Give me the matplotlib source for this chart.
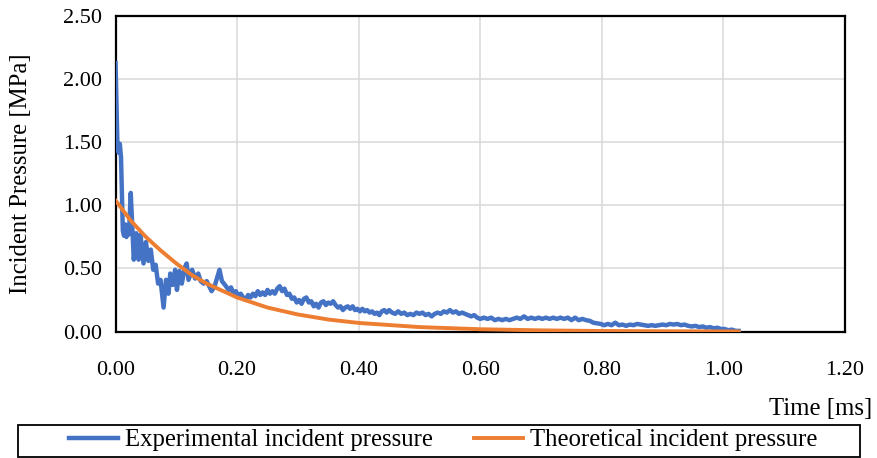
import matplotlib.pyplot as plt
from matplotlib.patches import Rectangle
from matplotlib.ticker import FormatStrFormatter

plt.rcParams['font.family'] = ['Liberation Serif', 'DejaVu Serif']

# experimental incident pressure (time ms, pressure MPa)
exp_t = [0.000, 0.003, 0.005, 0.007, 0.009, 0.012, 0.014, 0.016, 0.018, 0.020,
         0.022, 0.025, 0.028, 0.030, 0.034, 0.038, 0.041, 0.046, 0.050, 0.054,
         0.058, 0.062, 0.066, 0.070, 0.074, 0.079, 0.083, 0.087, 0.090, 0.094,
         0.098, 0.101, 0.105, 0.109, 0.114, 0.117, 0.120, 0.126, 0.131, 0.136,
         0.140, 0.145, 0.150, 0.158, 0.163, 0.171, 0.175,
         0.180, 0.186, 0.190, 0.194, 0.198, 0.202, 0.206, 0.210, 0.214, 0.218,
         0.222, 0.226, 0.230, 0.234, 0.238, 0.242, 0.246, 0.250, 0.254, 0.258,
         0.262, 0.266, 0.270, 0.274, 0.278, 0.282, 0.286, 0.290, 0.294, 0.298,
         0.302, 0.306, 0.310, 0.314, 0.318, 0.322, 0.326, 0.330, 0.334, 0.338,
         0.342, 0.346, 0.350, 0.354, 0.358, 0.362, 0.366, 0.370, 0.374, 0.378,
         0.382, 0.386, 0.390, 0.394, 0.398, 0.402, 0.406, 0.410, 0.414, 0.418,
         0.422, 0.426, 0.430, 0.434, 0.438, 0.442, 0.446, 0.450, 0.455, 0.460,
         0.465, 0.470, 0.475, 0.480, 0.485, 0.490, 0.495, 0.500, 0.505, 0.510,
         0.515, 0.520, 0.525, 0.530, 0.535, 0.540, 0.545, 0.550, 0.555, 0.560,
         0.565, 0.570, 0.575, 0.580, 0.585, 0.590, 0.595, 0.600, 0.606, 0.612,
         0.618, 0.624, 0.630, 0.636, 0.642, 0.648, 0.654, 0.660, 0.666, 0.672,
         0.678, 0.684, 0.690, 0.696, 0.702, 0.708, 0.714, 0.720, 0.726, 0.732,
         0.738, 0.744, 0.750, 0.756, 0.762, 0.768, 0.774, 0.780, 0.786, 0.792,
         0.798, 0.804, 0.810, 0.816, 0.822, 0.828, 0.834, 0.840, 0.846, 0.852,
         0.858, 0.864, 0.870, 0.876, 0.882, 0.888, 0.894, 0.900, 0.906, 0.912,
         0.918, 0.924, 0.930, 0.936, 0.942, 0.948, 0.954, 0.960, 0.966, 0.972,
         0.978, 0.984, 0.990, 0.996, 1.002, 1.008, 1.014, 1.020, 1.025]
exp_p = [2.13, 1.50, 1.42, 1.49, 1.38, 0.80, 0.76, 0.85, 0.75, 0.82,
         0.77, 1.10, 0.77, 0.57, 0.78, 0.57, 0.77, 0.54, 0.71, 0.56,
         0.65, 0.49, 0.53, 0.38, 0.41, 0.19, 0.41, 0.30, 0.46, 0.37,
         0.49, 0.33, 0.48, 0.38, 0.51, 0.54, 0.41, 0.49, 0.42, 0.46,
         0.40, 0.38, 0.40, 0.32, 0.36, 0.49, 0.40,
         0.37, 0.33, 0.35, 0.30, 0.32, 0.28, 0.30, 0.27, 0.25, 0.29,
         0.27, 0.30, 0.28, 0.32, 0.29, 0.31, 0.29, 0.33, 0.30, 0.32,
         0.30, 0.34, 0.36, 0.32, 0.34, 0.29, 0.30, 0.26, 0.27, 0.23,
         0.25, 0.22, 0.26, 0.27, 0.23, 0.24, 0.20, 0.22, 0.19, 0.23,
         0.24, 0.21, 0.23, 0.22, 0.24, 0.21, 0.19, 0.20, 0.17, 0.19,
         0.20, 0.18, 0.20, 0.17, 0.18, 0.16, 0.18, 0.16, 0.17, 0.15,
         0.16, 0.14, 0.15, 0.13, 0.16, 0.17, 0.15, 0.17, 0.15, 0.14,
         0.16, 0.14, 0.15, 0.13, 0.14, 0.13, 0.15, 0.14, 0.15, 0.13,
         0.14, 0.12, 0.14, 0.15, 0.14, 0.16, 0.15, 0.17, 0.15, 0.16,
         0.14, 0.15, 0.14, 0.13, 0.12, 0.13, 0.11, 0.10, 0.11, 0.10,
         0.11, 0.09, 0.10, 0.09, 0.10, 0.09, 0.10, 0.11, 0.10, 0.12,
         0.10, 0.11, 0.10, 0.11, 0.10, 0.11, 0.10, 0.11, 0.10, 0.11,
         0.10, 0.11, 0.09, 0.11, 0.09, 0.10, 0.09, 0.085, 0.07, 0.065,
         0.06, 0.05, 0.06, 0.05, 0.07, 0.05, 0.055, 0.045, 0.055, 0.05,
         0.06, 0.055, 0.05, 0.045, 0.05, 0.045, 0.05, 0.055, 0.05, 0.06,
         0.055, 0.06, 0.05, 0.055, 0.045, 0.04, 0.045, 0.035, 0.04, 0.03,
         0.035, 0.025, 0.03, 0.02, 0.02, 0.01, 0.015, 0.005, 0.005]

# theoretical incident pressure
theo_t = [0.000, 0.025, 0.050, 0.075, 0.100, 0.125, 0.150, 0.200, 0.250, 0.300,
          0.350, 0.400, 0.500, 0.600, 0.700, 0.800, 0.900, 1.025]
theo_p = [1.04, 0.88, 0.75, 0.64, 0.54, 0.45, 0.38, 0.27, 0.19, 0.135,
          0.095, 0.068, 0.035, 0.018, 0.009, 0.004, 0.002, 0.0]

x_ticks = [0.0, 0.2, 0.4, 0.6, 0.8, 1.0, 1.2]
y_ticks = [0.0, 0.5, 1.0, 1.5, 2.0, 2.5]

BLUE, ORANGE, GRID = "#4472C4", "#ED7D31", "#d9d9d9"
FS_TICK = 16
FS_TEXT = 17.8

fig = plt.figure(figsize=(8.78, 4.58), dpi=100)
ax = fig.add_axes([0.1316, 0.2762, 0.8308, 0.6878])

l1, = ax.plot(exp_t, exp_p, color=BLUE, lw=3.2, zorder=3,
              solid_joinstyle="round", label="Experimental incident pressure")
l2, = ax.plot(theo_t, theo_p, color=ORANGE, lw=2.8, zorder=4,
              label="Theoretical incident pressure")

ax.set_xlim(0, 1.2)
ax.set_ylim(0, 2.5)
ax.set_xticks(x_ticks)
ax.set_yticks(y_ticks)
ax.xaxis.set_major_formatter(FormatStrFormatter("%.2f"))
ax.yaxis.set_major_formatter(FormatStrFormatter("%.2f"))
ax.tick_params(axis="both", length=0, labelsize=FS_TICK)
ax.tick_params(axis="x", pad=21)
ax.tick_params(axis="y", pad=10)
ax.grid(color=GRID, lw=1.1, zorder=0)
ax.set_axisbelow(True)
for s in ax.spines.values():
    s.set_color("black")
    s.set_linewidth(1.6)

ax.set_ylabel("Incident Pressure [MPa]", fontsize=FS_TEXT, labelpad=22)
fig.text(872 / 878, 1 - 409 / 458, "Time [ms]", fontsize=FS_TEXT,
         ha="right", va="center")

# legend box along the bottom
fig.patches.append(Rectangle((18 / 878, 1 - 457 / 458), 842 / 878, 32 / 458,
                             transform=fig.transFigure, fill=False,
                             edgecolor="black", lw=1.3))
fig.legend(handles=[l1, l2], loc="center", ncol=2, frameon=False,
           bbox_to_anchor=(443 / 878, 1 - 440 / 458), fontsize=FS_TEXT,
           handlelength=2.0, handletextpad=0.28, columnspacing=1.65)

fig.savefig("out.png", dpi=100, facecolor="white")
